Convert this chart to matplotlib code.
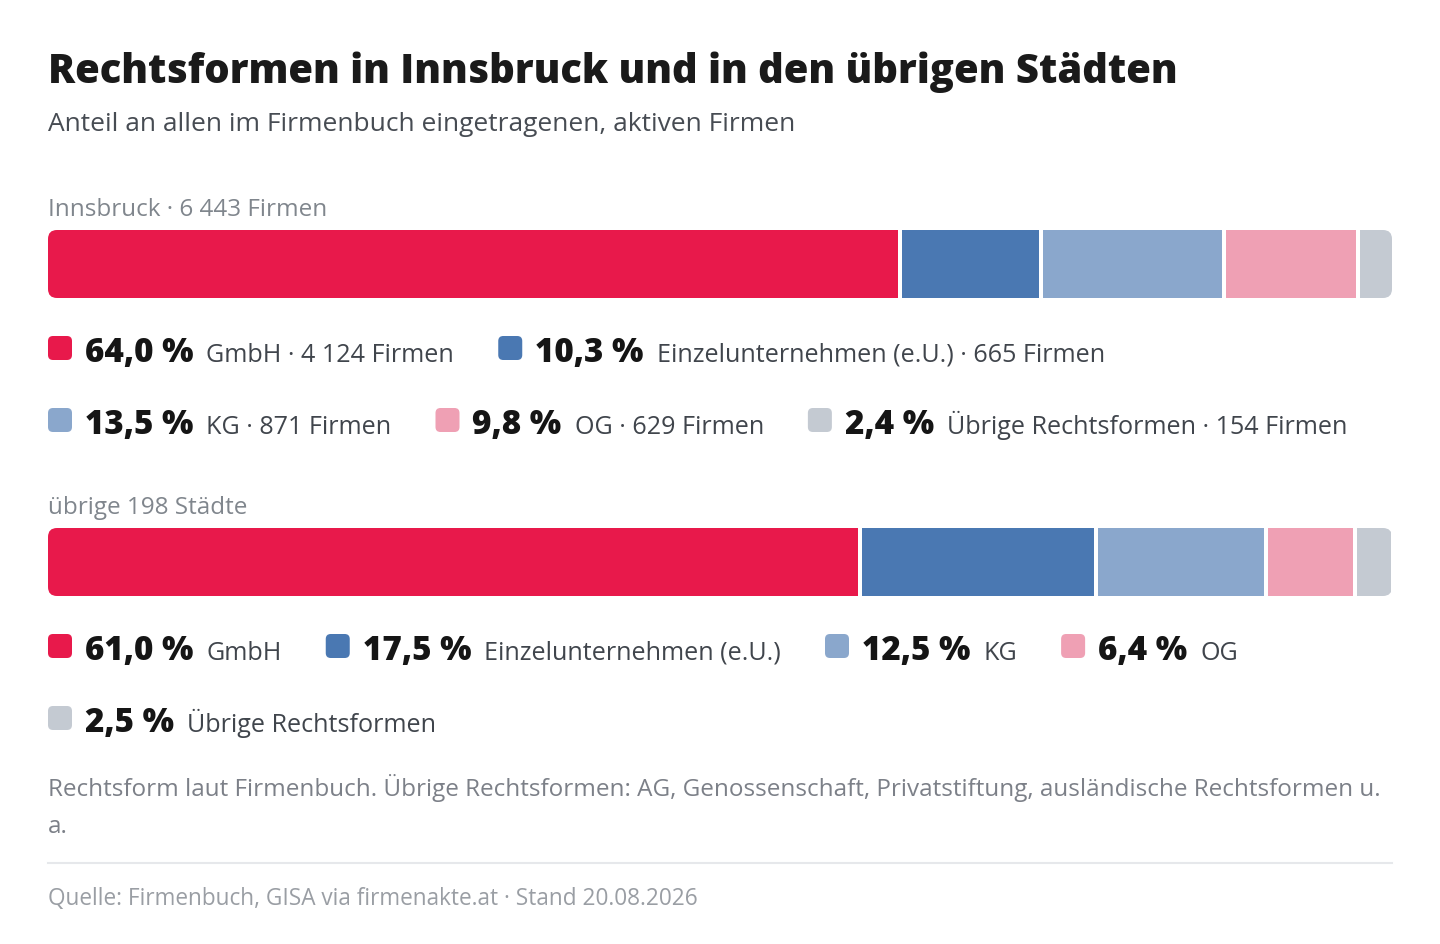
import matplotlib
matplotlib.use("Agg")
import matplotlib.pyplot as plt
from matplotlib.patches import FancyBboxPatch

plt.rcParams['font.family'] = ['Open Sans', 'DejaVu Sans']

# data
forms = ["GmbH", "Einzelunternehmen (e.U.)", "KG", "OG", "Übrige Rechtsformen"]
colors = ["#E8194B", "#4A78B2", "#8AA7CC", "#EFA0B4", "#C4CAD2"]
innsbruck_pct = [64.0, 10.3, 13.5, 9.8, 2.4]
innsbruck_count = [4124, 665, 871, 629, 154]
innsbruck_total = 6443
others_pct = [61.0, 17.5, 12.5, 6.4, 2.5]
other_cities = 198

title = "Rechtsformen in Innsbruck und in den übrigen Städten"
subtitle = "Anteil an allen im Firmenbuch eingetragenen, aktiven Firmen"
footnote_lines = ["Rechtsform laut Firmenbuch. Übrige Rechtsformen: AG, Genossenschaft, "
                  "Privatstiftung, ausländische Rechtsformen u.", "a."]
source = "Quelle: Firmenbuch, GISA via firmenakte.at · Stand 20.08.2026"


def num(n):
    return f"{n:,}".replace(",", " ")


def pct(v):
    return f"{v:.1f}".replace(".", ",") + " %"


W, H = 1440, 944
fig = plt.figure(figsize=(W / 100, H / 100), dpi=100)
ax = fig.add_axes([0, 0, 1, 1])
ax.set_xlim(0, W)
ax.set_ylim(H, 0)
ax.axis("off")
fig.canvas.draw()
renderer = fig.canvas.get_renderer()

X0, X1 = 48, 1392
GAP = 4
BAR_H = 68

ax.text(X0, 83, title, fontsize=28.8, fontweight="heavy", color="#1a1a1a", va="baseline")
ax.text(X0, 131, subtitle, fontsize=19, color="#474c53", va="baseline")


def draw_block(top, label, values, legend_labels):
    ax.text(X0, top - 14, label, fontsize=17.5, color="#80868d", va="baseline")
    avail = (X1 - X0) - GAP * (len(values) - 1)
    widths = [v / 100 * avail for v in values]
    lefts = []
    x = X0
    for w in widths:
        lefts.append(x)
        x += w + GAP
    clip = FancyBboxPatch((X0, top), X1 - X0, BAR_H,
                          boxstyle="round,pad=0,rounding_size=9",
                          transform=ax.transData, facecolor="none", edgecolor="none")
    ax.add_patch(clip)
    bars = ax.barh([top + BAR_H / 2] * len(values), widths, left=lefts,
                   height=BAR_H, color=colors, linewidth=0)
    for b in bars:
        b.set_clip_path(clip)

    # legend, flowing into rows
    base = top + BAR_H + 64
    x = X0
    row = 0
    for v, lab, c in zip(values, legend_labels, colors):
        sw = FancyBboxPatch((0, 0), 24, 24, boxstyle="round,pad=0,rounding_size=5",
                            facecolor=c, edgecolor="none")
        t1 = ax.text(0, 0, pct(v), fontsize=23.9, fontweight="heavy", color="#151515",
                     va="baseline")
        t2 = ax.text(0, 0, lab, fontsize=18.1, color="#40454c", va="baseline")
        w1 = t1.get_window_extent(renderer).width
        w2 = t2.get_window_extent(renderer).width
        total = 24 + 13 + w1 + 13 + w2
        if x > X0 and x + total > X1:
            row += 1
            x = X0
        y = base + row * 72
        sw.set_x(x)
        sw.set_y(y - 26)
        ax.add_patch(sw)
        t1.set_position((x + 37, y))
        t2.set_position((x + 37 + w1 + 13, y))
        x += total + 44


draw_block(230, f"Innsbruck · {num(innsbruck_total)} Firmen", innsbruck_pct,
           [f"{f} · {num(n)} Firmen" for f, n in zip(forms, innsbruck_count)])
draw_block(528, f"übrige {other_cities} Städte", others_pct, forms)

for i, line in enumerate(footnote_lines):
    ax.text(X0, 796 + i * 37, line, fontsize=17.5, color="#7c8088", va="baseline")
ax.plot([X0, X1], [863, 863], color="#e6e8eb", linewidth=1.5)
ax.text(X0, 905, source, fontsize=16.3, color="#9a9ea4", va="baseline")

fig.savefig("out.png", dpi=100, facecolor="white")
